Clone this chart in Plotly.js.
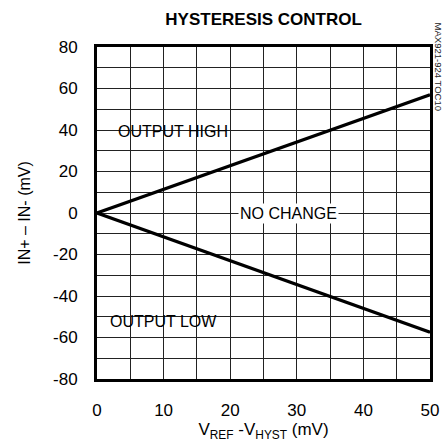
<!DOCTYPE html>
<html>
<head>
<meta charset="utf-8">
<script src="https://cdn.plot.ly/plotly-3.0.1.min.js"></script>
<style>html,body{margin:0;padding:0;background:#fff;}#chart{width:443px;height:442px;}</style>
</head>
<body>
<div id="chart"></div>
<script>
// Data
const vHyst = [0, 50];                 // V_REF - V_HYST (mV)
const upperThreshold = [0, 57];        // IN+ - IN- (mV), upper boundary
const lowerThreshold = [0, -57.5];     // IN+ - IN- (mV), lower boundary
const xTicks = [0, 10, 20, 30, 40, 50];
const yTicks = [80, 60, 40, 20, 0, -20, -40, -60, -80];
const regionLabels = ["OUTPUT HIGH", "NO CHANGE", "OUTPUT LOW"];
const regionX = [11.4, 28.8, 10];
const regionY = [39.5, 0, -52.5];

const FONT = "'Liberation Sans Narrow', 'Arial Narrow', 'Liberation Sans', Arial, sans-serif";

const traces = [
  {x: vHyst, y: upperThreshold, mode: 'lines', line: {color: '#000', width: 3.2}, hoverinfo: 'skip'},
  {x: vHyst, y: lowerThreshold, mode: 'lines', line: {color: '#000', width: 3.2}, hoverinfo: 'skip'}
];

const annotations = regionLabels.map((t, i) => ({
  x: regionX[i], y: regionY[i], xref: 'x', yref: 'y', text: t, showarrow: false,
  font: {family: FONT, size: 16, color: '#000'},
  bgcolor: i === 1 ? '#fff' : 'rgba(0,0,0,0)', borderpad: 1
}));
annotations.push({
  xref: 'paper', yref: 'paper', x: 1.004, y: 1.08, xanchor: 'left', yanchor: 'top',
  text: 'MAX921-924 TOC10', textangle: 90, showarrow: false,
  font: {family: "'Liberation Sans', Arial, sans-serif", size: 9.5, color: '#222'}
});

const layout = {
  width: 443, height: 442,
  margin: {l: 97, r: 13, t: 47, b: 63, pad: 0},
  paper_bgcolor: '#fff', plot_bgcolor: '#fff',
  showlegend: false,
  title: {text: '<b>HYSTERESIS CONTROL</b>', x: 0.595, xanchor: 'center', y: 0.958, yanchor: 'middle',
          font: {family: FONT, size: 17, color: '#000'}},
  xaxis: {
    range: [0, 50], tickvals: xTicks, ticktext: xTicks.map(String),
    showgrid: true, gridcolor: '#222', gridwidth: 1,
    minor: {dtick: 5, showgrid: true, gridcolor: '#222', gridwidth: 1},
    zeroline: false, showline: true, linecolor: '#000', linewidth: 3, mirror: true,
    ticks: '', ticklen: 0, ticklabelstandoff: 14,
    tickfont: {family: FONT, size: 17, color: '#000'},
    title: {text: 'V<sub>REF</sub> -V<sub>HYST</sub> (mV)', standoff: 9, font: {family: FONT, size: 17, color: '#000'}},
    fixedrange: true, automargin: false
  },
  yaxis: {
    range: [-80, 80], tickvals: yTicks, ticktext: yTicks.map(String),
    showgrid: true, gridcolor: '#222', gridwidth: 1,
    minor: {dtick: 10, showgrid: true, gridcolor: '#222', gridwidth: 1},
    zeroline: false, showline: true, linecolor: '#000', linewidth: 3, mirror: true,
    ticks: '', ticklen: 0, ticklabelstandoff: 13,
    tickfont: {family: FONT, size: 17, color: '#000'},
    title: {text: 'IN+ \u2013 IN- (mV)', standoff: 19, font: {family: FONT, size: 16, color: '#000'}},
    fixedrange: true, automargin: false
  },
  annotations: annotations
};

Plotly.newPlot('chart', traces, layout, {staticPlot: true, displayModeBar: false});
</script>
</body>
</html>
